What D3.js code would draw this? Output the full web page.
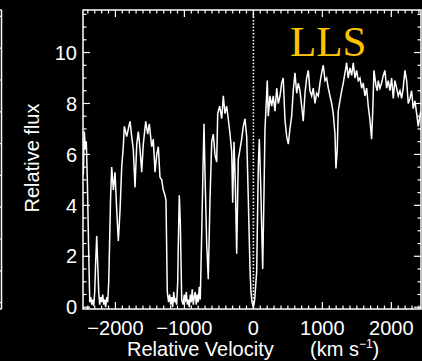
<!DOCTYPE html>
<html>
<head>
<meta charset="utf-8">
<script src="https://cdn.jsdelivr.net/npm/d3@7"></script>
<style>
  html, body { margin: 0; padding: 0; background: #000; }
  svg { display: block; }
</style>
</head>
<body>
<svg id="chart" width="422" height="361"></svg>
<script>
// Relative velocity (km/s) of each spectrum sample
const velocity = [
  -2465, -2451, -2436, -2422, -2407, -2390, -2372, -2358, -2343, -2329,
  -2315, -2300, -2286, -2271, -2257, -2242, -2228, -2213, -2199, -2184,
  -2170, -2155, -2141, -2126, -2112, -2097, -2086, -2071, -2054, -2030,
  -2006, -1981, -1958, -1933, -1909, -1886, -1871, -1836, -1813, -1788,
  -1764, -1741, -1716, -1691, -1668, -1643, -1619, -1596, -1561, -1532,
  -1509, -1474, -1451, -1426, -1401, -1378, -1354, -1329, -1306, -1281,
  -1267, -1248, -1230, -1213, -1199, -1184, -1170, -1155, -1141, -1126,
  -1112, -1097, -1086, -1074, -1059, -1039, -1020, -1001, -987, -972,
  -958, -943, -929, -914, -900, -886, -871, -857, -842, -828,
  -813, -799, -784, -770, -749, -730, -716, -701, -677, -654,
  -629, -604, -581, -557, -532, -517, -488, -459, -436, -412,
  -387, -364, -339, -314, -300, -281, -262, -242, -219, -194,
  -170, -146, -122, -97, -74, -49, -35, -20, 0, 19,
  48, 71, 86, 106, 135, 154, 168, 183, 201, 216,
  241, 265, 288, 313, 338, 361, 386, 410, 433, 458,
  483, 506, 530, 555, 578, 603, 628, 651, 675, 700,
  723, 748, 772, 796, 820, 845, 868, 893, 917, 941,
  965, 990, 1013, 1038, 1062, 1086, 1110, 1135, 1158, 1183,
  1197, 1216, 1230, 1255, 1280, 1303, 1328, 1352, 1375, 1400,
  1425, 1448, 1472, 1497, 1520, 1545, 1570, 1593, 1617, 1642,
  1665, 1690, 1714, 1729, 1748, 1777, 1796, 1810, 1835, 1859,
  1883, 1907, 1932, 1955, 1980, 2004, 2028, 2052, 2077, 2100,
  2125, 2149, 2172, 2197, 2222, 2245, 2270, 2294, 2317, 2342,
  2367, 2390, 2414, 2429
];

// Relative flux at each velocity sample
const flux = [
  5.2, 6.9, 6.2, 6.5, 5.0, 2.5, 0.2, 0.4, 0.1, 0.3,
  0.05, 0.6, 1.8, 2.8, 1.7, 0.6, 0.1, 0.4, 0.2, 0.5,
  0.1, 0.3, 0.0, 0.4, 0.2, 1.0, 2.3, 4.2, 5.5, 4.6,
  5.3, 3.8, 2.6, 3.8, 5.5, 6.3, 7.1, 6.7, 7.0, 7.3,
  6.7, 6.2, 4.7, 6.4, 6.9, 6.2, 5.3, 6.4, 7.3, 6.8,
  7.2, 6.3, 6.6, 5.3, 6.0, 6.3, 5.1, 5.0, 4.6, 4.4,
  4.2, 0.6, 0.2, 0.5, 0.1, 0.4, 0.0, 0.6, 0.2, 0.3,
  0.1, 1.0, 2.8, 4.4, 3.3, 0.3, 0.1, 0.5, 0.2, 0.6,
  0.1, 0.3, 0.0, 0.5, 0.2, 0.7, 0.1, 0.4, 0.6, 0.1,
  0.5, 0.2, 0.8, 0.3, 2.9, 5.5, 7.2, 5.2, 2.5, 1.1,
  4.2, 6.5, 6.8, 6.0, 5.7, 7.6, 7.9, 7.4, 8.3, 7.6,
  7.9, 7.4, 6.8, 6.1, 4.1, 6.5, 4.9, 2.1, 5.8, 6.2,
  6.6, 7.1, 7.4, 6.7, 4.3, 1.5, 0.6, 0.2, 0.0, 0.3,
  1.4, 5.5, 6.6, 4.8, 1.5, 4.5, 7.0, 7.8, 8.9, 7.5,
  8.3, 7.9, 8.3, 7.7, 8.6, 8.0, 8.3, 8.8, 9.0, 7.35,
  6.7, 6.4, 7.0, 7.5, 8.5, 9.2, 8.4, 8.8, 8.5, 7.9,
  7.3, 8.4, 9.0, 9.3, 8.5, 8.3, 8.6, 8.0, 8.4, 8.3,
  8.8, 9.2, 9.5, 8.9, 9.0, 8.6, 8.3, 8.0, 7.6, 6.8,
  5.45, 6.2, 7.7, 8.1, 8.5, 8.8, 9.2, 9.6, 9.0, 9.4,
  9.1, 9.6, 9.0, 9.3, 8.9, 9.0, 8.6, 8.8, 8.3, 8.6,
  7.9, 7.35, 6.6, 7.6, 9.3, 8.7, 8.5, 8.9, 8.6, 8.8,
  9.1, 9.3, 8.6, 8.9, 8.5, 9.0, 8.2, 8.9, 8.6, 8.3,
  8.5, 8.2, 8.6, 9.3, 8.9, 8.0, 8.2, 8.5, 7.8, 8.1,
  7.6, 7.1, 7.5, 7.7
];

// Axis tick values and labels
const xMajorTicks = [-2000, -1000, 0, 1000, 2000];
const xTickLabels = ["\u22122000", "\u22121000", "0", "1000", "2000"];
const yMajorTicks = [0, 2, 4, 6, 8, 10];
const yTickLabels = ["0", "2", "4", "6", "8", "10"];
const xDomain = [-2470, 2430];
const yDomain = [-0.07, 11.67];
const panelTitle = "LLS";

const svg = d3.select("#chart");
const plotLeft = 83, plotRight = 421, plotTop = 10, plotBottom = 309;

const x = d3.scaleLinear().domain(xDomain).range([plotLeft, plotRight]);
const y = d3.scaleLinear().domain(yDomain).range([plotBottom, plotTop]);

svg.append("rect").attr("width", 422).attr("height", 361).attr("fill", "#000");

// clip region for the spectrum
svg.append("clipPath").attr("id", "plotclip")
  .append("rect").attr("x", plotLeft).attr("y", plotTop)
  .attr("width", plotRight - plotLeft).attr("height", plotBottom - plotTop);

// Spectrum trace
const line = d3.line()
  .x((d, i) => x(velocity[i]))
  .y(d => y(d));

svg.append("path")
  .datum(flux)
  .attr("clip-path", "url(#plotclip)")
  .attr("fill", "none")
  .attr("stroke", "#fff")
  .attr("stroke-width", 1.5)
  .attr("stroke-linejoin", "miter")
  .attr("d", line);

// Zero-velocity marker
svg.append("line")
  .attr("x1", x(0)).attr("x2", x(0))
  .attr("y1", plotTop).attr("y2", plotBottom)
  .attr("stroke", "#fff")
  .attr("stroke-width", 1.6)
  .attr("stroke-dasharray", "1.5,1.8");

// Frame
const g = svg.append("g").attr("stroke", "#fff").attr("stroke-width", 1.5);
g.append("rect")
  .attr("x", plotLeft).attr("y", plotTop)
  .attr("width", plotRight - plotLeft).attr("height", plotBottom - plotTop)
  .attr("fill", "none");

// X ticks (bottom and top, pointing inward)
const xMinor = d3.range(-2400, 2401, 100);
xMinor.forEach(v => {
  const major = v % 1000 === 0;
  const len = major ? 7 : 3.5;
  const px = x(v);
  g.append("line").attr("x1", px).attr("x2", px)
    .attr("y1", plotBottom).attr("y2", plotBottom - len).attr("stroke-width", 1.2);
  g.append("line").attr("x1", px).attr("x2", px)
    .attr("y1", plotTop).attr("y2", plotTop + len).attr("stroke-width", 1.2);
});

// Y ticks (left and right, pointing inward)
const yMinor = d3.range(0, 11.51, 0.5);
yMinor.forEach(v => {
  const major = Math.abs(v % 2) < 1e-9;
  const len = major ? 7 : 3.5;
  const py = y(v);
  g.append("line").attr("x1", plotLeft).attr("x2", plotLeft + len)
    .attr("y1", py).attr("y2", py).attr("stroke-width", 1.2);
  g.append("line").attr("x1", plotRight).attr("x2", plotRight - len)
    .attr("y1", py).attr("y2", py).attr("stroke-width", 1.2);
});

const font = "'Liberation Sans', Arial, Helvetica, sans-serif";

// X tick labels
svg.append("g").selectAll("text")
  .data(xMajorTicks)
  .join("text")
  .attr("x", d => x(d))
  .attr("y", 335)
  .attr("text-anchor", "middle")
  .attr("font-family", font)
  .attr("font-size", 20)
  .attr("fill", "#fff")
  .text((d, i) => xTickLabels[i]);

// Y tick labels
svg.append("g").selectAll("text")
  .data(yMajorTicks)
  .join("text")
  .attr("x", 77)
  .attr("y", d => y(d))
  .attr("dy", "0.36em")
  .attr("text-anchor", "end")
  .attr("font-family", font)
  .attr("font-size", 20)
  .attr("fill", "#fff")
  .text((d, i) => yTickLabels[i]);

// Axis titles
const xt = svg.append("text")
  .attr("x", 127)
  .attr("y", 356)
  .attr("font-family", font)
  .attr("font-size", 20)
  .attr("fill", "#fff");
xt.append("tspan").text("Relative Velocity");
xt.append("tspan").attr("x", 310).text("(km s");
xt.append("tspan").attr("dy", -8).attr("font-size", 12).text("\u22121");
xt.append("tspan").attr("dy", 8).text(")");

svg.append("text")
  .attr("transform", "translate(39,158) rotate(-90)")
  .attr("text-anchor", "middle")
  .attr("font-family", font)
  .attr("font-size", 20)
  .attr("fill", "#fff")
  .text("Relative flux");

// Panel title
svg.append("text")
  .attr("x", 290)
  .attr("y", 56)
  .attr("font-family", "'Liberation Serif', 'Times New Roman', serif")
  .attr("font-size", 43)
  .attr("fill", "#FFC400")
  .text(panelTitle);

// Edge of the neighbouring panel on the left
const yNeighbour = d3.scaleLinear().domain([-0.1, 4.6]).range([plotBottom, plotTop]);
const ng = svg.append("g").attr("stroke", "#fff");
ng.append("line").attr("x1", 1.5).attr("x2", 1.5)
  .attr("y1", plotTop).attr("y2", plotBottom).attr("stroke-width", 1.5);
ng.append("line").attr("x1", 0).attr("x2", 1.5)
  .attr("y1", plotBottom).attr("y2", plotBottom).attr("stroke-width", 1.5);
ng.append("line").attr("x1", 0).attr("x2", 1.5)
  .attr("y1", plotTop).attr("y2", plotTop).attr("stroke-width", 1.5);
d3.range(0, 4.51, 0.5).forEach(v => {
  ng.append("line").attr("x1", 0).attr("x2", 1.5)
    .attr("y1", yNeighbour(v)).attr("y2", yNeighbour(v)).attr("stroke-width", 1.2);
});
</script>
</body>
</html>
